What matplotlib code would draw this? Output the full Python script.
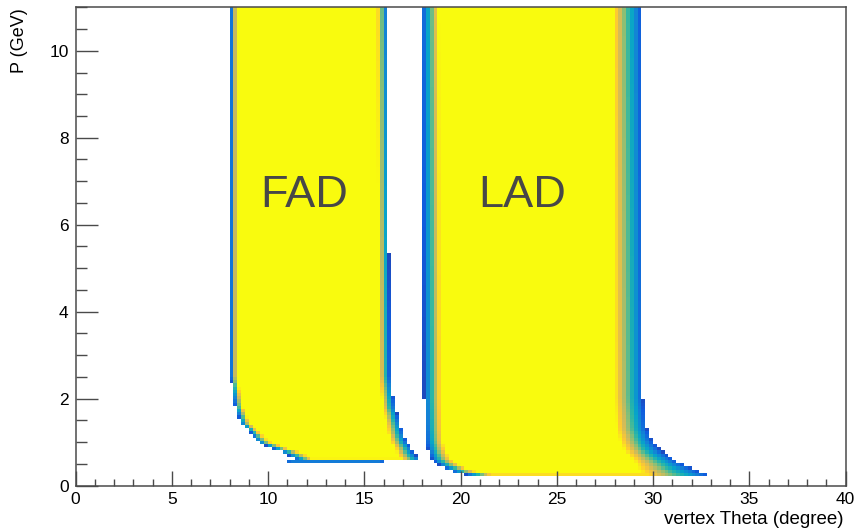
import numpy as np
import matplotlib.pyplot as plt
from matplotlib.colors import LinearSegmentedColormap
from matplotlib.ticker import MultipleLocator

plt.rcParams['font.family'] = ['Liberation Sans', 'DejaVu Sans']

# ROOT kBird palette
bird_stops = [0.0, 0.125, 0.25, 0.375, 0.5, 0.625, 0.75, 0.875, 1.0]
bird_red = [0.2082, 0.0592, 0.0780, 0.0232, 0.1802, 0.5301, 0.8186, 0.9956, 0.9764]
bird_green = [0.1664, 0.3599, 0.5041, 0.6419, 0.7178, 0.7492, 0.7328, 0.7862, 0.9832]
bird_blue = [0.5293, 0.8684, 0.8385, 0.7914, 0.6425, 0.4662, 0.3499, 0.1968, 0.0539]

# acceptance edges (degree) vs momentum (GeV), outer edge + width of the falling band
fad_p = [0.55, 0.62, 0.74, 0.85, 1.0, 1.2, 1.43, 1.8, 2.5, 11.0]
fad_left = [11.0, 11.4, 10.9, 10.2, 9.5, 9.1, 8.6, 8.3, 8.05, 8.05]
fad_left_w = [0.9, 0.9, 0.9, 0.8, 0.6, 0.5, 0.45, 0.4, 0.35, 0.35]
fad_right = [16.0, 17.9, 17.6, 17.45, 17.2, 17.0, 16.85, 16.6, 16.35, 16.2]
fad_right_w = [1.0, 1.0, 0.9, 0.85, 0.8, 0.75, 0.7, 0.65, 0.6, 0.55]
fad_pmin, fad_pmin_w = 0.535, 0.09

lad_p = [0.24, 0.3, 0.4, 0.5, 0.6, 0.8, 1.0, 1.3, 2.0, 11.0]
lad_left = [20.5, 19.7, 19.2, 18.8, 18.5, 18.3, 18.2, 18.15, 18.1, 18.0]
lad_left_w = [1.5, 1.3, 1.1, 1.0, 1.0, 0.95, 0.9, 0.9, 0.9, 0.9]
lad_right = [33.0, 32.6, 32.0, 31.5, 31.1, 30.4, 30.0, 29.7, 29.5, 29.4]
lad_right_w = [3.5, 3.2, 2.8, 2.4, 2.2, 1.9, 1.7, 1.6, 1.5, 1.5]
lad_pmin, lad_pmin_w = 0.22, 0.04

theta_bins = np.linspace(0, 40, 201)
p_bins = np.linspace(0, 11, 151)


def fill_region(tc, pc, kp, left, lw, right, rw, pmin, pmin_w):
    z = np.full((len(pc), len(tc)), -1.0)
    for i, p in enumerate(pc):
        if p < pmin:
            continue
        l = np.interp(p, kp, left)
        r = np.interp(p, kp, right)
        wl = np.interp(p, kp, lw)
        wr = np.interp(p, kp, rw)
        d = np.minimum((tc - l) / wl, (r - tc) / wr)
        d = np.minimum(d, (p - pmin) / pmin_w)
        z[i] = d
    return z


tc = 0.5 * (theta_bins[1:] + theta_bins[:-1])
pc = 0.5 * (p_bins[1:] + p_bins[:-1])
z_fad = fill_region(tc, pc, fad_p, fad_left, fad_left_w, fad_right, fad_right_w, fad_pmin, fad_pmin_w)
z_lad = fill_region(tc, pc, lad_p, lad_left, lad_left_w, lad_right, lad_right_w, lad_pmin, lad_pmin_w)
z = np.maximum(z_fad, z_lad)
h = np.ma.masked_less(z, 0.0)
h = 0.08 + 0.92 * np.clip(h, 0, 1)

cdict = {
    'red': [(s, c, c) for s, c in zip(bird_stops, bird_red)],
    'green': [(s, c, c) for s, c in zip(bird_stops, bird_green)],
    'blue': [(s, c, c) for s, c in zip(bird_stops, bird_blue)],
}
kbird = LinearSegmentedColormap('kBird', cdict)

fig = plt.figure(figsize=(8.58, 5.30), dpi=100)
ax = fig.add_axes([75.5 / 858, 44.5 / 530, 770 / 858, 478.2 / 530])
ax.pcolormesh(theta_bins, p_bins, h, cmap=kbird, vmin=0, vmax=1,
              shading='flat', antialiased=False, edgecolors='none')

ax.set_xlim(0, 40)
ax.set_ylim(0, 11)
ax.xaxis.set_major_locator(MultipleLocator(5))
ax.xaxis.set_minor_locator(MultipleLocator(1))
ax.yaxis.set_major_locator(MultipleLocator(2))
ax.yaxis.set_minor_locator(MultipleLocator(0.5))

fc = '#4a4a4a'
for s in ax.spines.values():
    s.set_color(fc)
    s.set_linewidth(1.1)
ax.tick_params(axis='both', which='both', direction='in', color=fc, width=1.0,
               labelsize=12.5, top=False, right=False)
ax.tick_params(axis='x', which='major', length=10.5, pad=5)
ax.tick_params(axis='x', which='minor', length=5)
ax.tick_params(axis='y', which='major', length=16, pad=5)
ax.tick_params(axis='y', which='minor', length=8)

ax.text(11.9, 6.67, 'FAD', fontsize=32.5, color='#474747', ha='center', va='center')
ax.text(23.2, 6.67, 'LAD', fontsize=32.5, color='#474747', ha='center', va='center')

fig.text(843 / 858, 1 - 519 / 530, 'vertex Theta (degree)', fontsize=13.5,
         ha='right', va='center')
fig.text(20 / 858, 1 - 8 / 530, 'P (GeV)', fontsize=13, rotation=90,
         ha='center', va='top')

fig.savefig('out.png', dpi=100)
